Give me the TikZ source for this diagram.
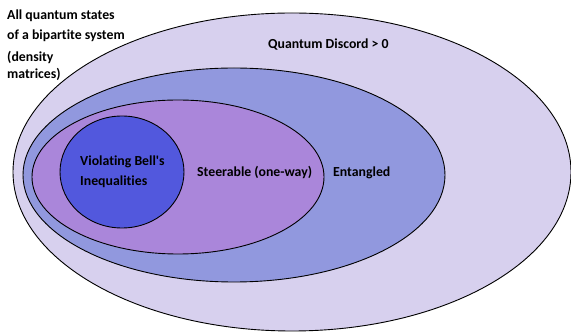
\documentclass[tikz,border=0pt]{standalone}
\usepackage{fontspec}
\setmainfont{Carlito}[Ligatures={TeXOff,NoCommon}]
\definecolor{discordfill}{RGB}{215,208,238}
\definecolor{entfill}{RGB}{145,152,222}
\definecolor{steerfill}{RGB}{170,134,218}
\definecolor{bellfill}{RGB}{82,88,221}
\tikzset{
  setline/.style={draw=black,line width=0.9pt},
  setlabel/.style={font=\bfseries\fontsize{13.8}{16}\selectfont,inner sep=0pt,anchor=west}
}
\begin{document}
\begin{tikzpicture}[x=1pt,y=-1pt,line cap=round,line join=round]
\useasboundingbox (0,0) rectangle (571,336);
\coordinate (discord) at (292,172);
\coordinate (ent) at (234,175);
\coordinate (steer) at (178,177);
\coordinate (bell) at (122,172);
\filldraw[setline,fill=discordfill] (discord) ellipse [x radius=279,y radius=159];
\filldraw[setline,fill=entfill] (ent) ellipse [x radius=211,y radius=107];
\filldraw[setline,fill=steerfill] (steer) ellipse [x radius=146,y radius=77];
\filldraw[setline,fill=bellfill] (bell) ellipse [x radius=62,y radius=56];
\node[setlabel] (allA) at (7,16) {All quantum states};
\node[setlabel] (allB) at (7,36) {of a bipartite system};
\node[setlabel] (allC) at (7,57) {(density};
\node[setlabel] (allD) at (7,74) {matrices)};
\node[setlabel] (discordlbl) at (268,45) {Quantum Discord > 0};
\node[setlabel] (entlbl) at (333,173) {Entangled};
\node[setlabel] (steerlbl) at (197,172) {Steerable (one-way)};
\node[setlabel] (bellA) at (80,162) {Violating Bell's};
\node[setlabel] (bellB) at (80,182) {Inequalities};
\end{tikzpicture}
\end{document}
